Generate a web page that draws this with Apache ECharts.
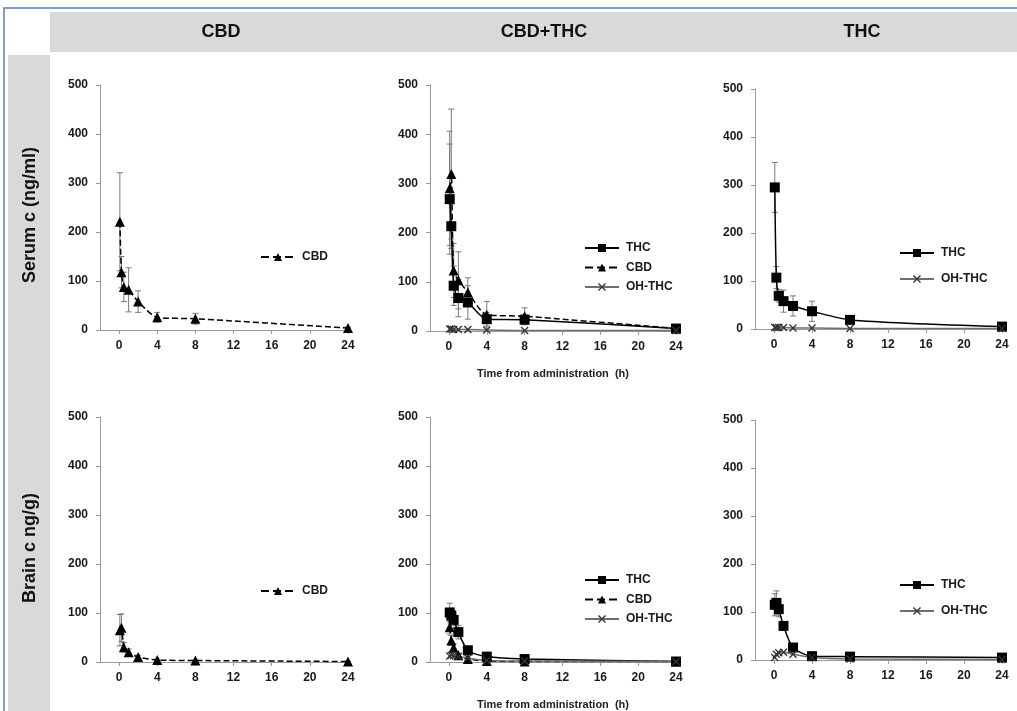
<!DOCTYPE html>
<html><head><meta charset="utf-8">
<script src="https://cdn.jsdelivr.net/npm/echarts@6/dist/echarts.min.js"></script>
<style>html,body{margin:0;padding:0;background:#fff}#c{width:1017px;height:711px}</style>
</head><body><div id="c"></div>
<script>
// ---------- data ----------
const timeH = [0.083, 0.25, 0.5, 1, 2, 4, 8, 24];
const xTickLabels = [0, 4, 8, 12, 16, 20, 24];
const colTitles = ['CBD', 'CBD+THC', 'THC'];
const rowTitles = ['Serum c (ng/ml)', 'Brain c ng/g)'];
const xTitle = 'Time from administration  (h)';

// Serum, CBD group
const serumCBDgroup_CBD    = [221, 118, 88, 82, 58, 26, 23, 4];
const serumCBDgroup_CBD_sd = [100, 32, 30, 45, 22, 10, 11, 2];
// Serum, CBD+THC group
const serumMix_THC    = [268, 213, 92, 67, 58, 24, 23, 5];
const serumMix_THC_sd = [112, 45, 40, 38, 34, 14, 10, 2];
const serumMix_CBD    = [290, 319, 123, 103, 79, 33, 30, 5];
const serumMix_CBD_sd = [116, 132, 55, 58, 29, 27, 17, 3];
const serumMix_OH     = [4, 4, 3, 3, 3, 2, 1, 1];
// Serum, THC group
const serumTHCgroup_THC    = [295, 107, 69, 58, 48, 37, 19, 5];
const serumTHCgroup_THC_sd = [52, 23, 13, 23, 21, 21, 5, 2];
const serumTHCgroup_OH     = [3, 3, 3, 3, 2, 2, 1, 1];
// Brain, CBD group
const brainCBDgroup_CBD    = [65, 70, 30, 20, 10, 4, 3, 1];
const brainCBDgroup_CBD_sd = [32, 28, 10, 7, 4, 2, 1, 0.5];
// Brain, CBD+THC group
const brainMix_THC    = [101, 95, 86, 61, 24, 11, 6, 1];
const brainMix_THC_sd = [19, 15, 12, 14, 5, 3, 2, 0.5];
const brainMix_CBD    = [71, 44, 29, 14, 6, 2, 1, 1];
const brainMix_CBD_sd = [14, 10, 8, 4, 2, 1, 1, 0.5];
const brainMix_OH     = [12, 14, 13, 11, 8, 3, 2, 1];
// Brain, THC group
const brainTHCgroup_THC    = [115, 119, 106, 71, 26, 8, 7, 5];
const brainTHCgroup_THC_sd = [23, 25, 16, 8, 4, 2, 2, 1];
const brainTHCgroup_OH     = [5, 12, 15, 16, 12, 5, 2, 1];

// ---------- layout ----------
const grids = [
  {left: 100, top: 85, width: 248, height: 245},
  {left: 430, top: 85, width: 246, height: 246},
  {left: 755, top: 89, width: 247, height: 240},
  {left: 100, top: 417, width: 248, height: 245},
  {left: 430, top: 417, width: 246, height: 245},
  {left: 755, top: 420, width: 247, height: 240}
];
const legendPos = [
  {left: 255, top: 246},
  {left: 579, top: 237},
  {left: 894, top: 242, gap: 14},
  {left: 255, top: 580},
  {left: 579, top: 569},
  {left: 894, top: 574, gap: 14}
];

const panels = [
  [{n: 'CBD', m: serumCBDgroup_CBD, s: serumCBDgroup_CBD_sd}],
  [{n: 'THC', m: serumMix_THC, s: serumMix_THC_sd}, {n: 'CBD', m: serumMix_CBD, s: serumMix_CBD_sd}, {n: 'OH-THC', m: serumMix_OH}],
  [{n: 'THC', m: serumTHCgroup_THC, s: serumTHCgroup_THC_sd}, {n: 'OH-THC', m: serumTHCgroup_OH}],
  [{n: 'CBD', m: brainCBDgroup_CBD, s: brainCBDgroup_CBD_sd}],
  [{n: 'THC', m: brainMix_THC, s: brainMix_THC_sd}, {n: 'CBD', m: brainMix_CBD, s: brainMix_CBD_sd}, {n: 'OH-THC', m: brainMix_OH}],
  [{n: 'THC', m: brainTHCgroup_THC, s: brainTHCgroup_THC_sd}, {n: 'OH-THC', m: brainTHCgroup_OH}]
];

const xPath = 'path://M0,1.2L1.2,0L5,3.8L8.8,0L10,1.2L6.2,5L10,8.8L8.8,10L5,6.2L1.2,10L0,8.8L3.8,5Z';
const styles = {
  'THC': {symbol: 'rect', symbolSize: 10, color: '#000', line: {color: '#000', width: 1.5, type: 'solid'}},
  'CBD': {symbol: 'triangle', symbolSize: 10, color: '#000', line: {color: '#000', width: 1.5, type: 'dashed'}},
  'OH-THC': {symbol: xPath, symbolSize: 8, color: '#333', line: {color: '#6f6f6f', width: 1.5, type: 'solid'}}
};

const font = 'Liberation Sans, Arial, sans-serif';
const axisColor = '#9a9a9a';

function errRender(params, api) {
  const x = api.value(0), lo = Math.max(0, api.value(1)), hi = api.value(2);
  const a = api.coord([x, lo]), b = api.coord([x, hi]);
  const w = 3;
  const st = {stroke: '#7a7a7a', lineWidth: 1};
  return {type: 'group', children: [
    {type: 'line', shape: {x1: a[0], y1: a[1], x2: b[0], y2: b[1]}, style: st},
    {type: 'line', shape: {x1: b[0] - w, y1: b[1], x2: b[0] + w, y2: b[1]}, style: st},
    {type: 'line', shape: {x1: a[0] - w, y1: a[1], x2: a[0] + w, y2: a[1]}, style: st}
  ]};
}

const grid = [], xAxis = [], yAxis = [], series = [], legend = [];
panels.forEach((p, i) => {
  grid.push(Object.assign({containLabel: false}, grids[i]));
  xAxis.push({
    type: 'value', gridIndex: i, min: -2, max: 24,
    name: (i === 1 || i === 4) ? xTitle : '',
    nameLocation: 'middle', nameGap: 37,
    nameTextStyle: {fontFamily: font, fontWeight: 'bold', fontSize: 11, color: '#222'},
    axisLine: {show: true, onZero: false, lineStyle: {color: axisColor, width: 1}},
    axisTick: {show: true, length: 4, customValues: xTickLabels, lineStyle: {color: axisColor}},
    axisLabel: {customValues: xTickLabels, fontFamily: font, fontWeight: 'bold', fontSize: 12, color: '#1a1a1a', margin: 10},
    splitLine: {show: false}
  });
  yAxis.push({
    type: 'value', gridIndex: i, min: 0, max: 500, interval: 100,
    axisLine: {show: true, onZero: false, lineStyle: {color: axisColor, width: 1}},
    axisTick: {show: true, length: 4, lineStyle: {color: axisColor}},
    axisLabel: {fontFamily: font, fontWeight: 'bold', fontSize: 12, color: '#1a1a1a', margin: 12},
    splitLine: {show: false}
  });
  const names = [];
  p.forEach(sd => {
    const st = styles[sd.n];
    names.push(sd.n);
    if (sd.s) {
      series.push({
        type: 'custom', name: 'err_' + i + '_' + sd.n, xAxisIndex: i, yAxisIndex: i,
        renderItem: errRender, silent: true, z: 1,
        encode: {x: 0, y: [1, 2]},
        data: timeH.map((t, k) => [t, sd.m[k] - sd.s[k], sd.m[k] + sd.s[k]])
      });
    }
    series.push({
      type: 'line', name: sd.n, xAxisIndex: i, yAxisIndex: i,
      data: timeH.map((t, k) => [t, sd.m[k]]),
      symbol: st.symbol, symbolSize: st.symbolSize, smooth: 0.25,
      itemStyle: {color: st.color}, lineStyle: st.line, z: 3,
      animation: false
    });
  });
  const lp = legendPos[i];
  legend.push({
    data: names, left: lp.left, top: lp.top, orient: 'vertical',
    itemWidth: 34, itemHeight: 10, itemGap: lp.gap || 7.5, selectedMode: false,
    textStyle: {fontFamily: font, fontWeight: 'bold', fontSize: 12, color: '#1a1a1a', padding: [0, 0, 0, 2]}
  });
});

const graphic = [
  {type: 'rect', shape: {x: 4, y: 8, width: 1030, height: 720}, style: {fill: 'none', stroke: '#4f81bd', lineWidth: 1.5}, z: 0},
  {type: 'rect', shape: {x: 50, y: 12, width: 967, height: 40}, style: {fill: '#d9d9d9'}, z: 0},
  {type: 'rect', shape: {x: 8, y: 55, width: 42, height: 656}, style: {fill: '#d9d9d9'}, z: 0}
];
const colCenters = [221, 544, 862];
colTitles.forEach((t, i) => graphic.push({type: 'text', x: colCenters[i], y: 32, z: 1,
  style: {text: t, fill: '#111', font: 'bold 18px ' + font, textAlign: 'center', textVerticalAlign: 'middle'}}));
const rowCenters = [215, 548];
rowTitles.forEach((t, i) => graphic.push({type: 'text', x: 30, y: rowCenters[i], rotation: Math.PI / 2, z: 1,
  style: {text: t, fill: '#111', font: 'bold 18px ' + font, textAlign: 'center', textVerticalAlign: 'middle'}}));

const chart = echarts.init(document.getElementById('c'), null, {renderer: 'canvas'});
chart.setOption({animation: false, backgroundColor: '#fff', grid, xAxis, yAxis, series, legend, graphic});
</script></body></html>
